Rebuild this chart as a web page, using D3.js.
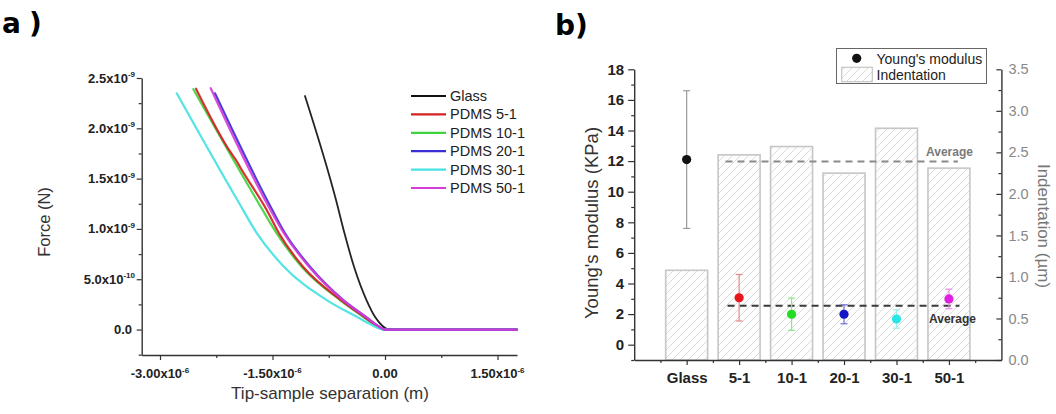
<!DOCTYPE html>
<html><head><meta charset="utf-8">
<script src="https://cdn.jsdelivr.net/npm/d3@7"></script>
<style>
body{margin:0;background:#fff}
svg{display:block;font-family:"Liberation Sans",Arial,sans-serif}
</style>
</head><body>
<svg id="c" width="1056" height="414"></svg>
<script>
// ---------------- Panel a data (x in µm, force in nN) ----------------
const curveNames = ["Glass", "PDMS 5-1", "PDMS 10-1", "PDMS 20-1", "PDMS 30-1", "PDMS 50-1"];
const glassCurve = [[-1.067,2.321],[-0.653,1.287],[-0.54,0.956],[-0.413,0.624],[-0.247,0.293],[-0.127,0.119],[-0.04,0.04],[0.04,0.003],[0.133,0],[0.8,0],[1.76,0]];
const pdms5Curve = [[-2.52,2.394],[-2.053,1.755],[-1.987,1.685],[-1.933,1.615],[-1.577,1.188],[-1.413,0.956],[-1.093,0.624],[-0.587,0.293],[-0.28,0.127],[-0.113,0.04],[0,0],[0.8,0],[1.76,0]];
const pdms10Curve = [[-2.556,2.388],[-1.711,1.288],[-1.444,0.956],[-1.111,0.624],[-0.60,0.293],[-0.289,0.127],[-0.12,0.04],[0,0],[0.8,0],[1.76,0]];
const pdms20Curve = [[-2.267,2.348],[-1.573,1.288],[-1.333,0.956],[-1.0,0.624],[-0.556,0.293],[-0.24,0.119],[-0.093,0.037],[0,0],[0.8,0],[1.76,0]];
const pdms30Curve = [[-2.777,2.348],[-1.969,1.287],[-1.707,0.956],[-1.347,0.624],[-0.777,0.293],[-0.377,0.127],[-0.187,0.05],[-0.02,0],[0.8,0],[1.76,0]];
const pdms50Curve = [[-2.324,2.398],[-1.60,1.288],[-1.347,0.956],[-1.013,0.624],[-0.56,0.293],[-0.245,0.119],[-0.095,0.037],[0,0],[0.8,0],[1.76,0]];
const curveColors = ["#111111", "#d42222", "#3fd43f", "#3a2ed6", "#44e2e2", "#d83cd8"];

const xTickValues = [-3.0, -1.5, 0, 1.5];
const xTickMantissa = ["-3.00x10", "-1.50x10", "0.00", "1.50x10"];
const xTickExp = ["-6", "-6", "", "-6"];
const xMinorTicks = [-2.25, -0.75, 0.75];
const yTickValues = [0, 0.5, 1.0, 1.5, 2.0, 2.5];
const yTickMantissa = ["0.0", "5.0x10", "1.0x10", "1.5x10", "2.0x10", "2.5x10"];
const yTickExp = ["", "-10", "-9", "-9", "-9", "-9"];
const yMinorTicks = [-0.25, 0.25, 0.75, 1.25, 1.75, 2.25];

// ---------------- Panel b data ----------------
const categories = ["Glass", "5-1", "10-1", "20-1", "30-1", "50-1"];
const modulus = [12.1, 3.07, 1.99, 1.99, 1.68, 2.99];       // KPa
const modulusErr = [4.5, 1.52, 1.05, 0.62, 0.60, 0.64];     // KPa
const indentation = [1.08, 2.47, 2.57, 2.25, 2.79, 2.31];   // µm
const avgIndentation = 2.39;
const avgModulus = 2.55;
const pointColors = ["#111111", "#e8161c", "#22dd22", "#1414c4", "#28e6e6", "#e020e0"];
const errColors = ["#9a9a9a", "#e88888", "#88e888", "#7070d8", "#99eeee", "#ea8cea"];
const leftTicks = [0, 2, 4, 6, 8, 10, 12, 14, 16, 18];
const leftMinor = [-1, 1, 3, 5, 7, 9, 11, 13, 15, 17];
const rightTicks = [0, 0.5, 1.0, 1.5, 2.0, 2.5, 3.0, 3.5];
const rightMinor = [0.25, 0.75, 1.25, 1.75, 2.25, 2.75, 3.25];

const svg = d3.select("#c");
const axisColor = "#333";
const FONT = "'Liberation Sans',Arial,sans-serif";

function styleAxis(g) {
  g.selectAll("path.domain").attr("stroke", axisColor).attr("stroke-width", 1.4);
  g.selectAll(".tick line").attr("stroke", axisColor).attr("stroke-width", 1.2);
}

// ================= Panel a =================
const xA = d3.scaleLinear().domain([-3.244, 1.76]).range([141.7, 517]);
const yA = d3.scaleLinear().domain([-0.253, 2.5]).range([355, 78]);

svg.append("text").attr("x", 2).attr("y", 33).attr("font-size", 28).attr("font-weight", "bold")
  .attr("font-family", "'DejaVu Sans',sans-serif").attr("letter-spacing", 8).text("a)");

const gxA = svg.append("g").attr("transform", `translate(0,${yA.range()[0]})`)
  .call(d3.axisBottom(xA).tickValues(xTickValues).tickSize(5).tickSizeOuter(0).tickFormat(() => ""));
styleAxis(gxA);
const gxAm = svg.append("g").attr("transform", `translate(0,${yA.range()[0]})`)
  .call(d3.axisBottom(xA).tickValues(xMinorTicks).tickSize(3).tickSizeOuter(0).tickFormat(() => ""));
gxAm.select("path.domain").remove(); styleAxis(gxAm);

const gyA = svg.append("g").attr("transform", `translate(${xA.range()[0]},0)`)
  .call(d3.axisLeft(yA).tickValues(yTickValues).tickSize(5).tickSizeOuter(0).tickFormat(() => ""));
styleAxis(gyA);
const gyAm = svg.append("g").attr("transform", `translate(${xA.range()[0]},0)`)
  .call(d3.axisLeft(yA).tickValues(yMinorTicks).tickSize(3).tickSizeOuter(0).tickFormat(() => ""));
gyAm.select("path.domain").remove(); styleAxis(gyAm);

// tick labels with superscripts
xTickValues.forEach((v, i) => {
  const t = svg.append("text").attr("x", xA(v)).attr("y", 378).attr("text-anchor", "middle")
    .attr("font-size", 13).attr("font-weight", "bold").attr("fill", "#222");
  t.append("tspan").text(xTickMantissa[i]);
  if (xTickExp[i]) t.append("tspan").attr("dy", -5.5).attr("font-size", 8).text(xTickExp[i]);
});
yTickValues.forEach((v, i) => {
  const t = svg.append("text").attr("x", yTickExp[i] ? 135 : 132).attr("y", yA(v) + 4.5).attr("text-anchor", "end")
    .attr("font-size", 13).attr("font-weight", "bold").attr("fill", "#222");
  t.append("tspan").text(yTickMantissa[i]);
  if (yTickExp[i]) t.append("tspan").attr("dy", -5.5).attr("font-size", 8).text(yTickExp[i]);
});

svg.append("text").attr("transform", "translate(50,222) rotate(-90)").attr("text-anchor", "middle")
  .attr("font-size", 16.5).attr("fill", "#333").text("Force (N)");
svg.append("text").attr("x", 330).attr("y", 399).attr("text-anchor", "middle")
  .attr("font-size", 17).attr("fill", "#333").text("Tip-sample separation (m)");

const curves = [glassCurve, pdms5Curve, pdms10Curve, pdms20Curve, pdms30Curve, pdms50Curve];
const lineA = d3.line().x(d => xA(d[0])).y(d => yA(d[1])).curve(d3.curveMonotoneX);
const drawOrder = [0, 2, 1, 4, 3, 5];
drawOrder.forEach(i => {
  svg.append("path").datum(curves[i]).attr("d", lineA).attr("fill", "none")
    .attr("stroke", curveColors[i]).attr("stroke-width", i === 0 ? 1.8 : 2.2)
    .attr("stroke-linejoin", "round").attr("stroke-linecap", "round").attr("opacity", 0.92);
});

// legend a
const legA = svg.append("g");
curveNames.forEach((n, i) => {
  const y = 96 + i * 18.4;
  legA.append("line").attr("x1", 411).attr("x2", 446).attr("y1", y).attr("y2", y)
    .attr("stroke", curveColors[i]).attr("stroke-width", 2.2);
  legA.append("text").attr("x", 450).attr("y", y + 5).attr("font-size", 14.5).attr("fill", "#222").text(n);
});

// ================= Panel b =================
const xB = d3.scaleLinear().domain([0, 7]).range([634.2, 1001.4]);
const yL = d3.scaleLinear().domain([-1, 18]).range([360, 69.3]);
const yR = d3.scaleLinear().domain([0, 3.5]).range([360, 69.3]);

svg.append("text").attr("x", 555).attr("y", 35).attr("font-size", 28).attr("font-weight", "bold")
  .attr("font-family", "'DejaVu Sans',sans-serif").attr("letter-spacing", 0).text("b)");

const defs = svg.append("defs");
const pat = defs.append("pattern").attr("id", "hatch").attr("patternUnits", "userSpaceOnUse")
  .attr("width", 8).attr("height", 8);
pat.append("rect").attr("width", 8).attr("height", 8).attr("fill", "#fdfdfd");
pat.append("path").attr("d", "M-2,2 l4,-4 M0,8 l8,-8 M6,10 l4,-4")
  .attr("stroke", "#d8d8d8").attr("stroke-width", 0.9);

// bars
const barW = 0.8;
svg.append("g").selectAll("rect").data(indentation).join("rect")
  .attr("x", (d, i) => xB(i + 1 - barW / 2))
  .attr("width", xB(barW) - xB(0))
  .attr("y", d => yR(d))
  .attr("height", d => yR(0) - yR(d))
  .attr("fill", "url(#hatch)").attr("stroke", "#c6c6c6").attr("stroke-width", 1.6);

// average lines
svg.append("line").attr("x1", xB(1.74)).attr("x2", xB(6.17)).attr("y1", yR(avgIndentation)).attr("y2", yR(avgIndentation))
  .attr("stroke", "#8a8a8a").attr("stroke-width", 2).attr("stroke-dasharray", "7,5");
svg.append("text").attr("x", 926).attr("y", 156).attr("font-size", 12).attr("font-weight", "bold")
  .attr("fill", "#7a7a7a").text("Average");
svg.append("line").attr("x1", xB(1.78)).attr("x2", xB(6.2)).attr("y1", yL(avgModulus)).attr("y2", yL(avgModulus))
  .attr("stroke", "#3a3a3a").attr("stroke-width", 2).attr("stroke-dasharray", "7,5");
svg.append("text").attr("x", 929).attr("y", 323).attr("font-size", 12).attr("font-weight", "bold")
  .attr("fill", "#333").text("Average");

// error bars + points
const eg = svg.append("g");
modulus.forEach((m, i) => {
  const cx = xB(i + 1);
  const hi = yL(m + modulusErr[i]), lo = yL(m - modulusErr[i]);
  eg.append("line").attr("x1", cx).attr("x2", cx).attr("y1", hi).attr("y2", lo)
    .attr("stroke", errColors[i]).attr("stroke-width", 1.2);
  [hi, lo].forEach(yy => eg.append("line").attr("x1", cx - 3.5).attr("x2", cx + 3.5).attr("y1", yy).attr("y2", yy)
    .attr("stroke", errColors[i]).attr("stroke-width", 1.2));
  eg.append("circle").attr("cx", cx).attr("cy", yL(m)).attr("r", 4.6).attr("fill", pointColors[i]);
});

// axes b
const gxB = svg.append("g").attr("transform", `translate(0,${yL.range()[0]})`)
  .call(d3.axisBottom(xB).tickValues([1, 2, 3, 4, 5, 6]).tickSize(5).tickSizeOuter(0).tickPadding(7)
    .tickFormat(d => categories[d - 1]));
styleAxis(gxB);
gxB.selectAll("text").attr("font-size", 15).attr("font-weight", "bold").attr("fill", "#222").attr("font-family", FONT);
const gxBm = svg.append("g").attr("transform", `translate(0,${yL.range()[0]})`)
  .call(d3.axisBottom(xB).tickValues([0.5, 1.5, 2.5, 3.5, 4.5, 5.5, 6.5]).tickSize(3).tickSizeOuter(0).tickFormat(() => ""));
gxBm.select("path.domain").remove(); styleAxis(gxBm);

const gyL = svg.append("g").attr("transform", `translate(${xB.range()[0]},0)`)
  .call(d3.axisLeft(yL).tickValues(leftTicks).tickSize(6).tickSizeOuter(0).tickPadding(4).tickFormat(d3.format("d")));
styleAxis(gyL);
gyL.selectAll("text").attr("font-size", 15).attr("font-weight", "bold").attr("fill", "#222").attr("font-family", FONT);
const gyLm = svg.append("g").attr("transform", `translate(${xB.range()[0]},0)`)
  .call(d3.axisLeft(yL).tickValues(leftMinor).tickSize(3).tickSizeOuter(0).tickFormat(() => ""));
gyLm.select("path.domain").remove(); styleAxis(gyLm);

const gyR = svg.append("g").attr("transform", `translate(${xB.range()[1]},0)`)
  .call(d3.axisRight(yR).tickValues(rightTicks).tickSize(-5).tickSizeOuter(0).tickPadding(7).tickFormat(d3.format(".1f")));
styleAxis(gyR);
gyR.selectAll("text").attr("font-size", 14.5).attr("fill", "#888").attr("font-family", FONT);
const gyRm = svg.append("g").attr("transform", `translate(${xB.range()[1]},0)`)
  .call(d3.axisRight(yR).tickValues(rightMinor).tickSize(-3).tickSizeOuter(0).tickFormat(() => ""));
gyRm.select("path.domain").remove(); styleAxis(gyRm);

svg.append("text").attr("transform", "translate(598,223) rotate(-90)").attr("text-anchor", "middle")
  .attr("font-size", 18.5).attr("fill", "#333").text("Young's modulus (KPa)");
svg.append("text").attr("transform", "translate(1038,226) rotate(90)").attr("text-anchor", "middle")
  .attr("font-size", 17).attr("fill", "#777").text("Indentation (µm)");

// legend b
const legB = svg.append("g");
legB.append("rect").attr("x", 836.5).attr("y", 48.5).attr("width", 150).attr("height", 35)
  .attr("fill", "#fff").attr("stroke", "#666").attr("stroke-width", 1);
legB.append("circle").attr("cx", 856.7).attr("cy", 58.3).attr("r", 4.6).attr("fill", "#111");
legB.append("rect").attr("x", 841.7).attr("y", 67.3).attr("width", 30.6).attr("height", 14.4)
  .attr("fill", "url(#hatch)").attr("stroke", "#c6c6c6").attr("stroke-width", 1.2);
legB.append("text").attr("x", 876.5).attr("y", 63.5).attr("font-size", 14).attr("fill", "#222").text("Young's modulus");
legB.append("text").attr("x", 876.5).attr("y", 80).attr("font-size", 14).attr("fill", "#222").text("Indentation");
</script>
</body></html>
